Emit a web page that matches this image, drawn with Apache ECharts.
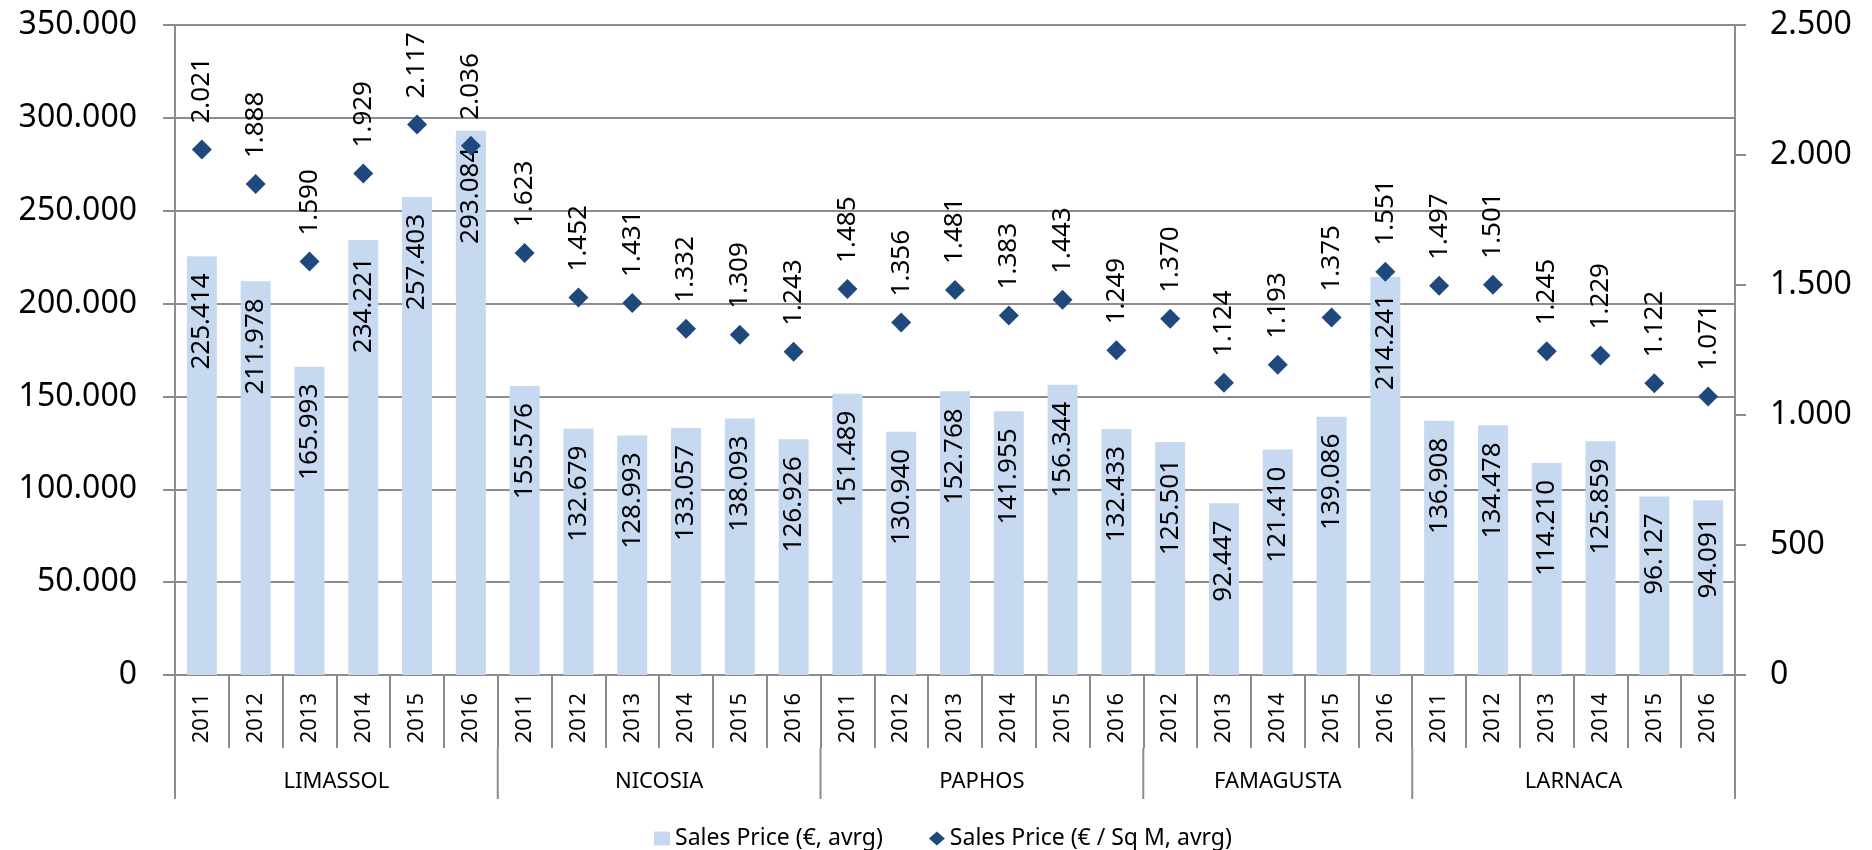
<!DOCTYPE html>
<html>
<head>
<meta charset="utf-8">
<script src="https://cdn.jsdelivr.net/npm/echarts@6/dist/echarts.min.js"></script>
<style>
  html, body { margin: 0; padding: 0; background: #fff; }
  #chart { width: 1872px; height: 850px; }
</style>
</head>
<body>
<div id="chart"></div>
<script>
// Average sales prices per district and year
const districts = ['LIMASSOL', 'NICOSIA', 'PAPHOS', 'FAMAGUSTA', 'LARNACA'];
const districtYears = [
  ['2011', '2012', '2013', '2014', '2015', '2016'],
  ['2011', '2012', '2013', '2014', '2015', '2016'],
  ['2011', '2012', '2013', '2014', '2015', '2016'],
  ['2012', '2013', '2014', '2015', '2016'],
  ['2011', '2012', '2013', '2014', '2015', '2016']
];
const salesPrice = [
  225414, 211978, 165993, 234221, 257403, 293084,
  155576, 132679, 128993, 133057, 138093, 126926,
  151489, 130940, 152768, 141955, 156344, 132433,
  125501, 92447, 121410, 139086, 214241,
  136908, 134478, 114210, 125859, 96127, 94091
];
const salesPriceSqm = [
  2021, 1888, 1590, 1929, 2117, 2036,
  1623, 1452, 1431, 1332, 1309, 1243,
  1485, 1356, 1481, 1383, 1443, 1249,
  1370, 1124, 1193, 1375, 1551,
  1497, 1501, 1245, 1229, 1122, 1071
];
const seriesNames = ['Sales Price (€, avrg)', 'Sales Price (€ / Sq M, avrg)'];

// Year level of the category axis
const yearCats = districtYears.flat();

// District level: half-year points, name at each group centre, separator at each group edge
const halfCount = yearCats.length * 2;
const districtCats = new Array(halfCount + 1).fill('');
const districtEdges = [0];
let pos = 0;
districts.forEach((d, i) => {
  const n = districtYears[i].length;
  districtCats[pos * 2 + n] = d;
  pos += n;
  districtEdges.push(pos * 2);
});

const fmt = v => String(v).replace(/\B(?=(\d{3})+(?!\d))/g, '.');

const FONT = 'Noto Sans';
const GRAY = '#8c8c8c';
const YEAR_BAND = 73;     // depth of the year row below the axis line
const GROUP_BAND = 124;   // bottom of the district row below the axis line

const chart = echarts.init(document.getElementById('chart'));
chart.setOption({
  animation: false,
  textStyle: { fontFamily: FONT, color: '#000' },
  grid: { left: 175, right: 137, top: 25, bottom: 175, containLabel: false },
  legend: {
    left: 649,
    top: 822,
    itemGap: 46,
    itemWidth: 16,
    itemHeight: 14,
    textStyle: { fontFamily: FONT, fontSize: 23, color: '#000' },
    data: [
      { name: seriesNames[0], icon: 'rect' },
      { name: seriesNames[1], icon: 'diamond', itemStyle: { color: '#1f497d', opacity: 1 } }
    ]
  },
  xAxis: [
    {
      type: 'category',
      data: yearCats,
      position: 'bottom',
      boundaryGap: true,
      axisLine: { show: true, lineStyle: { color: GRAY, width: 2 } },
      axisTick: { show: true, interval: 0, length: YEAR_BAND, lineStyle: { color: GRAY, width: 2 } },
      axisLabel: {
        interval: 0, rotate: 90, margin: 18,
        fontFamily: FONT, fontSize: 22, color: '#000'
      },
      splitLine: { show: false }
    },
    {
      type: 'category',
      data: districtCats,
      position: 'bottom',
      offset: YEAR_BAND,
      boundaryGap: false,
      axisLine: { show: false },
      axisTick: { show: false },
      axisLabel: {
        interval: 0, margin: 23,
        fontFamily: FONT, fontSize: 22, color: '#000'
      },
      splitLine: { show: false }
    }
  ],
  yAxis: [
    {
      type: 'value',
      min: 0, max: 350000, interval: 50000,
      axisLine: { show: true, lineStyle: { color: GRAY, width: 2 } },
      axisTick: { show: true, length: 12, lineStyle: { color: GRAY, width: 2 } },
      axisLabel: { margin: 38, fontFamily: FONT, fontSize: 32, color: '#000', formatter: fmt },
      splitLine: { show: true, lineStyle: { color: GRAY, width: 2 } }
    },
    {
      type: 'value',
      min: 0, max: 2500, interval: 500,
      position: 'right',
      axisLine: { show: true, lineStyle: { color: GRAY, width: 2 } },
      axisTick: { show: true, length: 11, lineStyle: { color: GRAY, width: 2 } },
      axisLabel: { margin: 35, fontFamily: FONT, fontSize: 32, color: '#000', formatter: fmt },
      splitLine: { show: false }
    }
  ],
  series: [
    {
      name: seriesNames[0],
      type: 'bar',
      xAxisIndex: 0,
      yAxisIndex: 0,
      data: salesPrice,
      barWidth: 30,
      itemStyle: { color: '#c6d9f0' },
      z: 2,
      label: {
        show: true,
        position: 'insideTop',
        distance: 17,
        rotate: 90,
        align: 'right',
        verticalAlign: 'middle',
        fontFamily: FONT,
        fontSize: 26,
        color: '#000',
        formatter: p => fmt(p.value)
      }
    },
    {
      name: seriesNames[1],
      type: 'scatter',
      xAxisIndex: 0,
      yAxisIndex: 1,
      data: salesPriceSqm,
      symbol: 'diamond',
      symbolSize: 20,
      itemStyle: { color: '#1f497d', opacity: 1 },
      z: 3,
      label: {
        show: true,
        position: 'top',
        distance: 16,
        rotate: 90,
        align: 'left',
        verticalAlign: 'middle',
        fontFamily: FONT,
        fontSize: 26,
        color: '#000',
        formatter: p => fmt(p.value)
      }
    },
    {
      // district separators in the lower row of the category axis
      type: 'custom',
      xAxisIndex: 1,
      yAxisIndex: 0,
      silent: true,
      clip: false,
      data: districtEdges.map(e => [e, 0]),
      renderItem: (params, api) => {
        const p = api.coord([api.value(0), 0]);
        return {
          type: 'line',
          shape: { x1: p[0], y1: p[1] + YEAR_BAND, x2: p[0], y2: p[1] + GROUP_BAND },
          style: { stroke: GRAY, lineWidth: 2 }
        };
      }
    }
  ]
});
</script>
</body>
</html>
